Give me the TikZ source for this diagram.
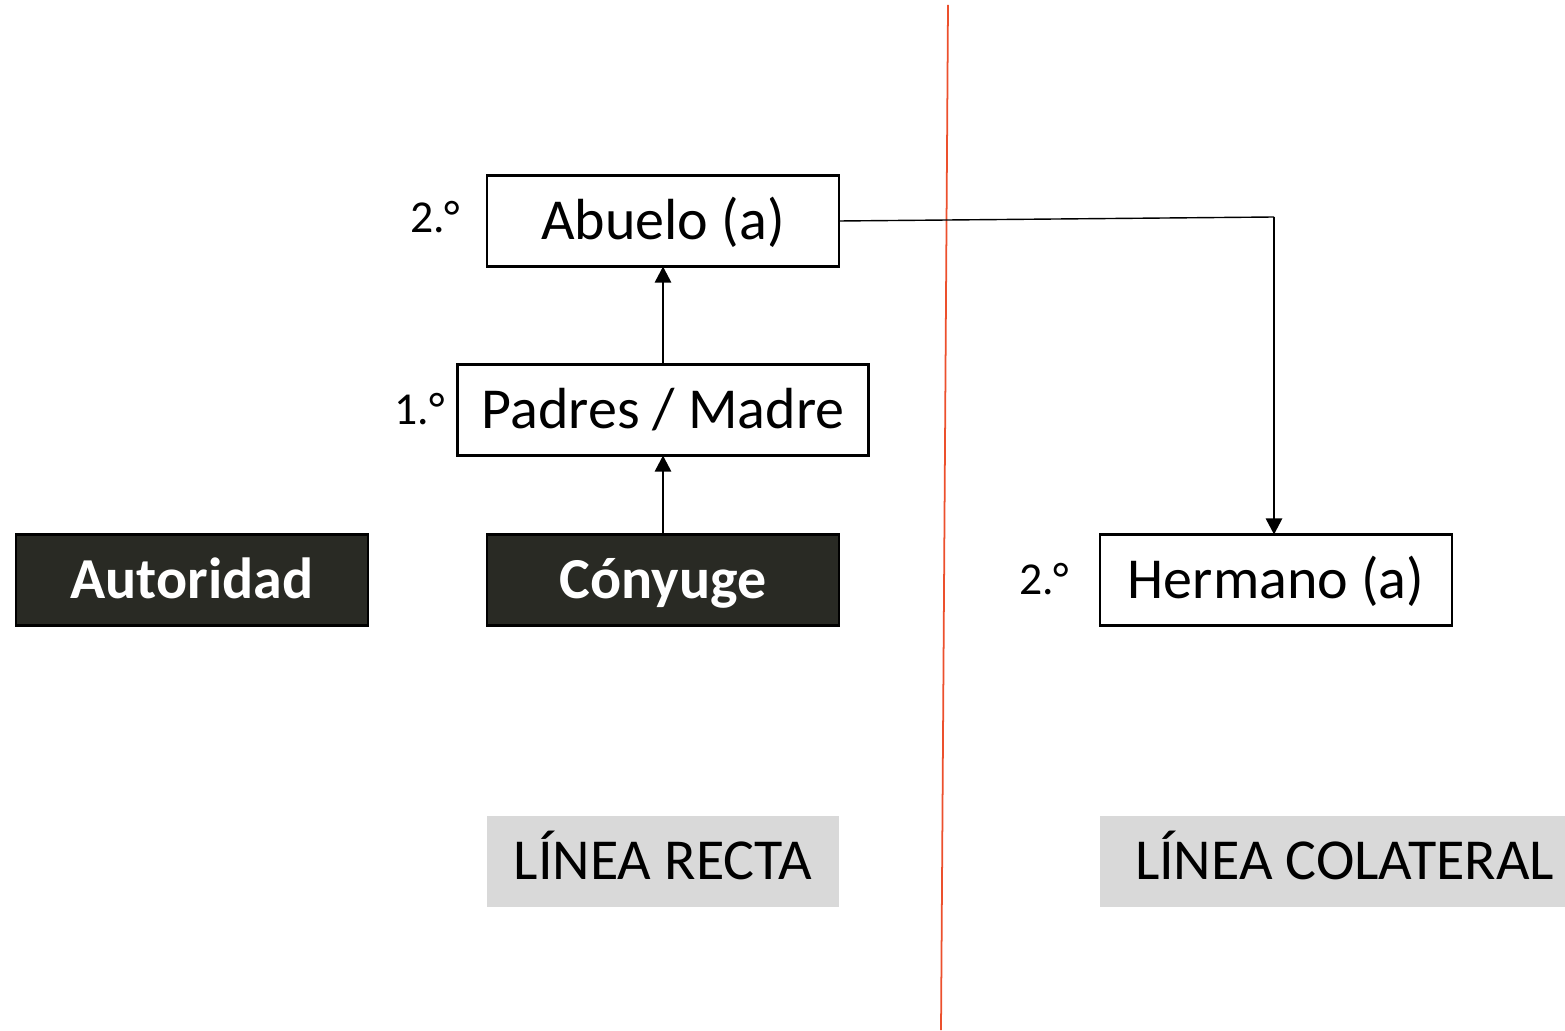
\documentclass[tikz,border=0pt]{standalone}
\usepackage{fontspec}
\setmainfont{Carlito}
\usepackage{tikz}
\usetikzlibrary{positioning}
\usetikzlibrary{arrows.meta}
\definecolor{darkbox}{RGB}{41,42,36}
\definecolor{greybox}{RGB}{217,217,217}
\definecolor{divred}{RGB}{236,80,45}
\tikzset{node distance=1cm,
      kin/.style={draw, line width=0.7pt, fill=white, minimum width=3.52cm,
      minimum height=0.91cm, inner sep=0pt, outer sep=0pt, text height=10.6pt, text depth=0pt,
      font=\fontsize{16.5}{20}\selectfont},
      darkkin/.style={kin, fill=darkbox, text=white, font=\fontsize{16.5}{20}\selectfont\bfseries},
      lineabox/.style={fill=greybox, minimum width=3.52cm, minimum height=0.91cm,
      inner sep=0pt, outer sep=0pt, text height=10.6pt, text depth=0pt,
      font=\fontsize{16.5}{20}\selectfont},
      grado/.style={inner sep=0pt, text height=8.4pt, text depth=0pt, font=\fontsize{13}{15}\selectfont},
      every edge/.style={draw, line width=0.75pt, -{Triangle[length=4.6pt,width=4.6pt]}}}

\begin{document}
\begin{tikzpicture}
          \useasboundingbox (0,0) rectangle (15.65,10.30);
          \node[kin] (abu) at (6.63,8.09) {Abuelo (a)};
          \node[kin, minimum width=4.11cm, below=0.98cm of abu] (pad) {Padres / Madre};
          \node[darkkin, below=0.79cm of pad] (con) {Cónyuge};
          \node[darkkin, left=1.19cm of con] (aut) {Autoridad};
          \node[kin, right=2.61cm of con] (her) {Hermano (a)};
          \node[lineabox, below=1.9cm of con] (recta) {LÍNEA RECTA};
          \node[lineabox, minimum width=4.65cm, below=1.9cm of her.south west,
                anchor=north west] (colat) {\hspace*{0.24cm}LÍNEA COLATERAL};
          \node[grado, left=0.26cm of abu, yshift=0.03cm] (g2a) {2.°};
          \node[grado, left=0.12cm of pad] (g1) {1.°};
          \node[grado, left=0.3cm of her] (g2b) {2.°};
          \coordinate (divtop) at (9.48,10.25);
          \coordinate (divbot) at (9.41,0);
          \coordinate (esq) at (12.74,8.13);
          \draw[divred, line width=0.5pt] (divtop) -- (divbot);
          \draw (con) edge (pad);
          \draw (pad) edge (abu);
          \draw[line width=0.4pt] (abu.east) -- (esq);
          \draw (esq) edge (esq |- her.north);
       \end{tikzpicture}
\end{document}
